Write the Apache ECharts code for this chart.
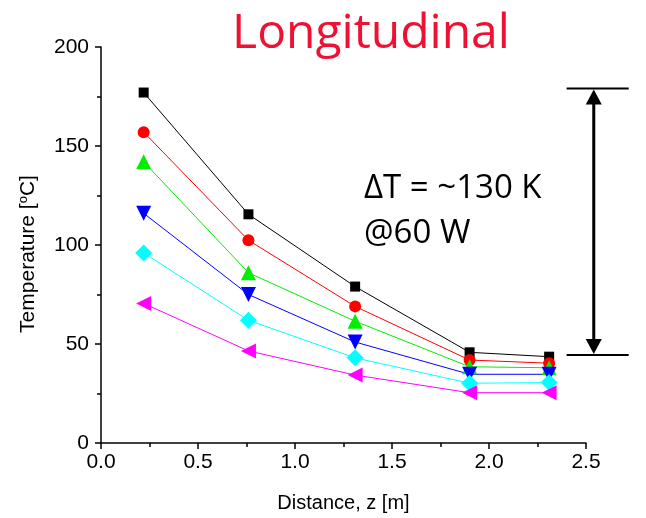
<!DOCTYPE html>
<html><head><meta charset="utf-8">
<script src="https://cdn.jsdelivr.net/npm/echarts@6/dist/echarts.min.js"></script>
<style>html,body{margin:0;padding:0;background:#fff}#c{width:646px;height:518px}</style>
</head><body><div id="c"></div>
<script>
const distance = [0.22, 0.76, 1.31, 1.90, 2.31];
const seriesBlack   = [177, 115.5, 79, 45.8, 43.6];
const seriesRed     = [157, 102.4, 69, 41.9, 40.3];
const seriesGreen   = [142, 86, 61.5, 38.5, 38];
const seriesBlue    = [116, 75, 51, 34.7, 34.7];
const seriesCyan    = [96, 62, 43, 30.2, 30.5];
const seriesMagenta = [70.5, 46.5, 34.3, 25.4, 25.4];
const xTicks = [0, 0.5, 1.0, 1.5, 2.0, 2.5];
const yTicks = [0, 50, 100, 150, 200];
// annotation: delta-T bracket (data coords)
const bracketTop = 179, bracketBottom = 44.4;
const bracketX = 2.54, bracketX0 = 2.40, bracketX1 = 2.72;

const chart = echarts.init(document.getElementById('c'), null, {renderer:'canvas'});
function mk(name, data, color, symbol, size, rot){
  return {name, type:'line', data: distance.map((x,i)=>[x,data[i]]),
    symbol, symbolSize:size, symbolRotate:rot||0,
    lineStyle:{color, width:1}, itemStyle:{color}, z: 2};
}
const axisFont = {color:'#000', fontSize:21, fontFamily:'Liberation Sans'};
chart.setOption({
  animation:false,
  title:{text:'Longitudinal', left:366, top:5, textAlign:'center',
    textStyle:{color:'#ee1133', fontSize:48, fontWeight:'normal', fontFamily:'Open Sans'}},
  grid:{left:101, right:60, top:47, bottom:75},
  xAxis:{type:'value', min:xTicks[0], max:xTicks[xTicks.length-1], interval:0.5,
    name:'Distance, z [m]', nameLocation:'middle', nameGap:50,
    nameTextStyle:{...axisFont, fontSize:20},
    axisLine:{lineStyle:{color:'#000', width:1.5}},
    axisTick:{length:6, lineStyle:{color:'#000', width:1.5}},
    minorTick:{show:true, splitNumber:2, length:4, lineStyle:{color:'#000', width:1.5}},
    splitLine:{show:false},
    axisLabel:{...axisFont, margin:9, formatter:v=>v.toFixed(1)}},
  yAxis:{type:'value', min:yTicks[0], max:yTicks[yTicks.length-1], interval:50,
    name:'Temperature [{sup|o}C]', nameLocation:'middle', nameGap:61,
    nameTextStyle:{...axisFont, fontSize:21, padding:[0,18,0,0], rich:{sup:{fontSize:13, verticalAlign:'top', fontFamily:'Liberation Sans', padding:[0,0,10,0]}}},
    axisLine:{show:true, lineStyle:{color:'#000', width:1.5}},
    axisTick:{length:6, lineStyle:{color:'#000', width:1.5}},
    minorTick:{show:true, splitNumber:2, length:4, lineStyle:{color:'#000', width:1.5}},
    splitLine:{show:false},
    axisLabel:{...axisFont, margin:12}},
  series:[
    mk('a', seriesBlack, '#000000', 'rect', 10),
    mk('b', seriesRed, '#ff0000', 'circle', 12),
    mk('c', seriesGreen, '#00ee00', 'triangle', 15),
    mk('d', seriesBlue, '#0000ff', 'triangle', 15, 180),
    mk('e', seriesCyan, '#00ffff', 'diamond', 17),
    mk('f', seriesMagenta, '#ff00ff', 'triangle', 15, 90)
  ]
});
const pTop = chart.convertToPixel({gridIndex:0}, [bracketX, bracketTop]);
const pBot = chart.convertToPixel({gridIndex:0}, [bracketX, bracketBottom]);
const l0 = chart.convertToPixel({gridIndex:0}, [bracketX0, bracketTop]);
const l1 = chart.convertToPixel({gridIndex:0}, [bracketX1, bracketTop]);
const ax = pTop[0], ah = 15, aw = 16;
chart.setOption({graphic:[
  {type:'line', shape:{x1:l0[0], y1:pTop[1], x2:l1[0], y2:pTop[1]}, style:{stroke:'#000', lineWidth:2}},
  {type:'line', shape:{x1:l0[0], y1:pBot[1], x2:l1[0], y2:pBot[1]}, style:{stroke:'#000', lineWidth:2}},
  {type:'line', shape:{x1:ax, y1:pTop[1]+ah, x2:ax, y2:pBot[1]-ah}, style:{stroke:'#000', lineWidth:3}},
  {type:'polygon', shape:{points:[[ax,pTop[1]+1],[ax-aw/2,pTop[1]+ah+1],[ax+aw/2,pTop[1]+ah+1]]}, style:{fill:'#000'}},
  {type:'polygon', shape:{points:[[ax,pBot[1]-1],[ax-aw/2,pBot[1]-ah-1],[ax+aw/2,pBot[1]-ah-1]]}, style:{fill:'#000'}},
  {type:'text', left:364, top:166, style:{text:'\u0394T = ~130 K\n@60 W', fontSize:33, lineHeight:45, fill:'#000', fontFamily:'Open Sans'}}
]});
</script></body></html>
